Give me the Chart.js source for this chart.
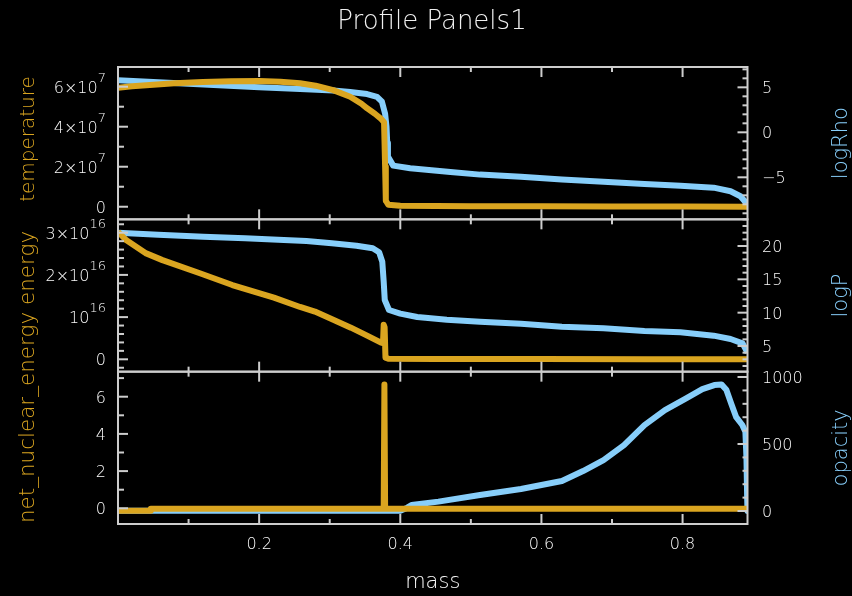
<!DOCTYPE html>
<html>
<head>
<meta charset="utf-8">
<title>Profile Panels1</title>
<script src="https://cdn.jsdelivr.net/npm/chart.js@4.4.1/dist/chart.umd.min.js"></script>
<style>
  html, body { margin: 0; padding: 0; background: #000; }
  canvas { display: block; }
</style>
</head>
<body>
<canvas id="profile" width="852" height="596"></canvas>
<script>
// ---------- profile data (mass coordinate in Msun) ----------
const massT = [0, 0.02, 0.05, 0.08, 0.12, 0.16, 0.20, 0.23, 0.258, 0.28, 0.305, 0.329, 0.345, 0.353, 0.364, 0.372, 0.377, 0.3785, 0.3795, 0.383, 0.40, 0.50, 0.60, 0.70, 0.80, 0.892];
const temperature = [5.95e7, 6.02e7, 6.1e7, 6.17e7, 6.23e7, 6.27e7, 6.28e7, 6.25e7, 6.17e7, 6.05e7, 5.83e7, 5.5e7, 5.15e7, 4.92e7, 4.65e7, 4.42e7, 4.22e7, 2.0e7, 0.3e7, 0.1e7, 0.05e7, 0.03e7, 0.02e7, 0.015e7, 0.01e7, 0.005e7];

const massRho = [0, 0.05, 0.10, 0.15, 0.20, 0.258, 0.305, 0.329, 0.353, 0.367, 0.374, 0.3785, 0.3805, 0.3815, 0.3825, 0.39, 0.414, 0.471, 0.513, 0.571, 0.629, 0.688, 0.746, 0.797, 0.844, 0.868, 0.882, 0.889, 0.892];
const logRho = [5.8, 5.6, 5.4, 5.2, 5.02, 4.82, 4.65, 4.47, 4.25, 3.95, 3.4, 2.07, 0.6, -1.2, -2.7, -3.7, -4.0, -4.4, -4.7, -4.95, -5.25, -5.5, -5.75, -5.95, -6.15, -6.55, -7.1, -7.75, -8.0];

const massE = [0, 0.012, 0.04, 0.063, 0.116, 0.162, 0.221, 0.258, 0.279, 0.305, 0.33, 0.353, 0.372, 0.3755, 0.3765, 0.3778, 0.379, 0.383, 0.45, 0.6, 0.75, 0.892];
const energy = [3.02e16, 2.82e16, 2.51e16, 2.35e16, 2.04e16, 1.76e16, 1.46e16, 1.24e16, 1.13e16, 0.94e16, 0.75e16, 0.56e16, 0.40e16, 0.38e16, 0.82e16, 0.76e16, 0.04e16, 0.015e16, 0.008e16, 0.005e16, 0.003e16, 0.002e16];

const massP = [0, 0.057, 0.121, 0.18, 0.227, 0.267, 0.303, 0.338, 0.361, 0.37, 0.3745, 0.3765, 0.378, 0.384, 0.40, 0.424, 0.466, 0.513, 0.571, 0.629, 0.688, 0.746, 0.797, 0.844, 0.868, 0.885, 0.892];
const logP = [22.0, 21.7, 21.4, 21.15, 20.95, 20.75, 20.4, 20.05, 19.65, 19.05, 17.65, 14.65, 11.9, 10.4, 9.85, 9.35, 8.95, 8.65, 8.35, 7.9, 7.65, 7.25, 7.05, 6.55, 6.05, 5.4, 4.0];

const massN = [0, 0.0455, 0.0465, 0.3765, 0.3775, 0.3785, 0.892];
const netNuclear = [-0.13, -0.13, -0.03, -0.03, 6.65, -0.03, -0.03];

const massK = [0, 0.40, 0.41, 0.416, 0.454, 0.513, 0.571, 0.629, 0.659, 0.688, 0.717, 0.746, 0.775, 0.805, 0.828, 0.845, 0.855, 0.862, 0.869, 0.876, 0.8846, 0.889, 0.8905, 0.8915, 0.892];
const opacity = [1, 2, 25, 45, 70, 119, 164, 224, 298, 380, 492, 641, 753, 840, 910, 940, 945, 905, 800, 700, 642, 592, 400, 100, 0];

// ---------- tick labels ----------
const massTicks = [0.2, 0.4, 0.6, 0.8];
const temperatureTicks = [0, 2e7, 4e7, 6e7];
const logRhoTicks = [-5, 0, 5];
const energyTicks = [0, 1e16, 2e16, 3e16];
const logPTicks = [5, 10, 15, 20];
const netNuclearTicks = [0, 2, 4, 6];
const opacityTicks = [0, 500, 1000];

// ---------- styling ----------
const ORANGE = 'rgb(218,165,32)';
const BLUE = 'rgb(135,206,250)';
const FRAME = 'rgb(205,205,205)';
const TEXT = 'rgb(250,250,250)';
const TITLE = 'rgb(240,240,240)';
const FONT = '"DejaVu Sans", "Liberation Sans", sans-serif';
const W = '200 ';   // light strokes for all lettering
const LEFT_W = 118, RIGHT_W = 104.5, BOTTOM_H = 72, TOP_PAD = 67;

// each panel: left (orange) quantity and right (blue) quantity, top to bottom
const panels = [
  { left: 'yT', right: 'yRho', leftTicks: temperatureTicks, leftMinor: 1e7, rightTicks: logRhoTicks, rightMinor: 1, sci: true, rightTitle: 'logRho' },
  { left: 'yE', right: 'yP', leftTicks: energyTicks, leftMinor: 0.2e16, rightTicks: logPTicks, rightMinor: 1, sci: true, rightTitle: 'logP' },
  { left: 'yN', right: 'yK', leftTicks: netNuclearTicks, leftMinor: 1, rightTicks: opacityTicks, rightMinor: 100, sci: false, rightTitle: 'opacity' }
];

function yScale(position, min, max) {
  return {
    type: 'linear', position, stack: position, stackWeight: 1, min, max,
    grid: { display: false }, border: { display: false }, ticks: { display: false },
    afterFit(s) { s.width = position === 'left' ? LEFT_W : RIGHT_W; }
  };
}

function series(label, xs, ys, axis, color, order) {
  return {
    label, yAxisID: axis, order,
    data: xs.map((m, i) => ({ x: m, y: ys[i] })),
    borderColor: color, backgroundColor: color, borderWidth: 6,
    pointRadius: 0, fill: false, tension: 0,
    borderJoinStyle: 'round', borderCapStyle: 'butt'
  };
}

function isListed(v, list, step) {
  return list.some(t => Math.abs(t - v) < step * 1e-6);
}

// "6×10" + superscript "7" style parts
function sciParts(v) {
  if (v === 0) return ['0', ''];
  const e = Math.floor(Math.log10(Math.abs(v)) + 1e-9);
  const m = Math.round(v / Math.pow(10, e) * 100) / 100;
  return [m === 1 ? '10' : m + '\u00d710', String(e)];
}

const panelDecor = {
  id: 'panelDecor',
  afterDatasetsDraw(chart) {
    const ctx = chart.ctx;
    const area = chart.chartArea;
    const sx = chart.scales.x;
    const line = (x1, y1, x2, y2) => { ctx.beginPath(); ctx.moveTo(x1, y1); ctx.lineTo(x2, y2); ctx.stroke(); };
    ctx.save();
    ctx.strokeStyle = FRAME;
    ctx.lineWidth = 2;

    panels.forEach(p => {
      const L = chart.scales[p.left], R = chart.scales[p.right];
      const top = L.top, bottom = L.bottom;
      ctx.strokeRect(area.left, top, area.right - area.left, bottom - top);

      // mass ticks along top and bottom edge of every panel
      for (let k = 1; k * 0.1 < sx.max; k++) {
        const v = k * 0.1, x = sx.getPixelForValue(v);
        const len = isListed(v, massTicks, 0.1) ? 10 : 5;
        line(x, top, x, top + len);
        line(x, bottom, x, bottom - len);
      }
      // left axis ticks
      for (let k = Math.ceil(L.min / p.leftMinor); k * p.leftMinor <= L.max; k++) {
        const v = k * p.leftMinor, y = L.getPixelForValue(v);
        line(area.left, y, area.left + (isListed(v, p.leftTicks, p.leftMinor) ? 10 : 6), y);
      }
      // right axis ticks
      for (let k = Math.ceil(R.min / p.rightMinor); k * p.rightMinor <= R.max; k++) {
        const v = k * p.rightMinor, y = R.getPixelForValue(v);
        line(area.right, y, area.right - (isListed(v, p.rightTicks, p.rightMinor) ? 10 : 5), y);
      }

      // tick labels
      ctx.fillStyle = TEXT;
      ctx.textBaseline = 'alphabetic';
      p.leftTicks.forEach(v => {
        const y = L.getPixelForValue(v);
        const [main, sup] = p.sci ? sciParts(v) : [String(v), ''];
        let xr = 106;
        if (sup) {
          ctx.font = W + '13px ' + FONT;
          ctx.textAlign = 'right';
          ctx.fillText(sup, xr, y - 5);
          xr -= ctx.measureText(sup).width;
        }
        ctx.font = W + '16px ' + FONT;
        ctx.textAlign = 'right';
        ctx.fillText(main, xr, y + 6);
      });
      ctx.font = W + '16px ' + FONT;
      ctx.textAlign = 'left';
      p.rightTicks.forEach(v => {
        ctx.fillText(String(v).replace('-', '\u2212'), 762, R.getPixelForValue(v) + 6);
      });

      // right axis title, reading bottom to top
      ctx.save();
      ctx.fillStyle = BLUE;
      ctx.font = W + '21px ' + FONT;
      ctx.textAlign = 'center';
      ctx.translate(846.5, (R.top + R.bottom) / 2);
      ctx.rotate(-Math.PI / 2);
      ctx.fillText(p.rightTitle, 0, 0);
      ctx.restore();
    });

    // mass tick labels under the bottom panel
    ctx.fillStyle = TEXT;
    ctx.font = W + '16px ' + FONT;
    ctx.textAlign = 'center';
    massTicks.forEach(v => ctx.fillText(String(v), sx.getPixelForValue(v), 549));

    // left axis titles
    ctx.fillStyle = ORANGE;
    ctx.textAlign = 'center';
    const leftTitles = [['temperature', 139, 20], ['net_nuclear_energy energy', 377, 21.5]];
    leftTitles.forEach(([t, yc, size]) => {
      ctx.save();
      ctx.font = W + size + 'px ' + FONT;
      ctx.translate(33.5, yc);
      ctx.rotate(-Math.PI / 2);
      ctx.fillText(t, 0, 0);
      ctx.restore();
    });

    // x axis title and chart title
    ctx.fillStyle = TEXT;
    ctx.font = W + '21px ' + FONT;
    ctx.fillText('mass', (area.left + area.right) / 2, 588);
    ctx.fillStyle = TITLE;
    ctx.font = W + '26px ' + FONT;
    ctx.fillText('Profile Panels1', 432, 29);
    ctx.restore();
  }
};

new Chart(document.getElementById('profile'), {
  type: 'line',
  data: {
    datasets: [
      series('temperature', massT, temperature, 'yT', ORANGE, 1),
      series('energy', massE, energy, 'yE', ORANGE, 1),
      series('net_nuclear_energy', massN, netNuclear, 'yN', ORANGE, 1),
      series('logRho', massRho, logRho, 'yRho', BLUE, 2),
      series('logP', massP, logP, 'yP', BLUE, 2),
      series('opacity', massK, opacity, 'yK', BLUE, 2)
    ]
  },
  options: {
    responsive: false,
    devicePixelRatio: 1,
    animation: false,
    layout: { padding: { top: TOP_PAD, left: 0, right: 0, bottom: 0 } },
    plugins: { legend: { display: false }, tooltip: { enabled: false }, title: { display: false } },
    scales: {
      x: {
        type: 'linear', position: 'bottom', min: 0, max: 0.892,
        grid: { display: false }, border: { display: false }, ticks: { display: false },
        afterFit(s) { s.height = BOTTOM_H; }
      },
      // left-hand stack is laid out in reverse key order, so the bottom panel comes first
      yN: yScale('left', -0.844, 7.346),
      yE: yScale('left', -0.293e16, 3.317e16),
      yT: yScale('left', -0.63e7, 6.985e7),
      yRho: yScale('right', -9.67, 7.26),
      yP: yScale('right', 1.15, 24.0),
      yK: yScale('right', -97, 1040)
    }
  },
  plugins: [panelDecor]
});
</script>
</body>
</html>
